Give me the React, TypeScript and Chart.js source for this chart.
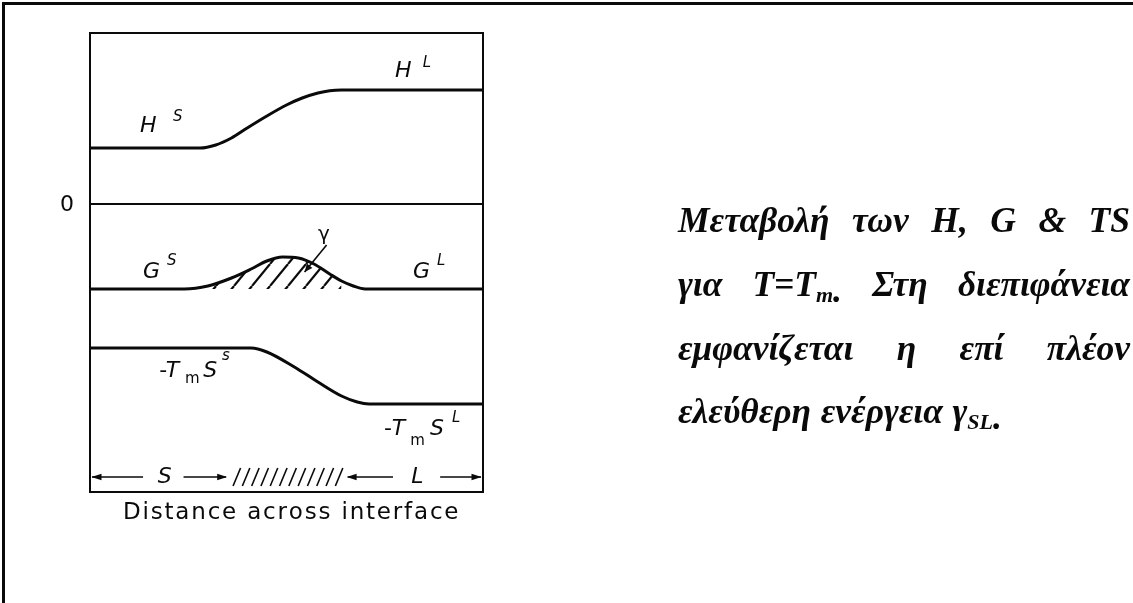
import React, { useEffect, useRef } from "react";
import { Chart, registerables } from "chart.js";

Chart.register(...registerables);

const CANVAS_W = 1133;
const CANVAS_H = 603;

// Distance across the interface: 0 = solid side, 100 = liquid side
const enthalpyX = [0, 28, 32, 36, 40, 45, 50, 54, 58, 61, 64, 100];
const enthalpyY = [5.6, 5.6, 5.9, 6.6, 7.6, 8.8, 9.9, 10.6, 11.1, 11.33, 11.4, 11.4];

const freeEnergyX = [0, 24, 30, 36, 41, 45, 49, 53, 57, 61, 64, 67, 70, 100];
const freeEnergyY = [-8.5, -8.5, -8.2, -7.4, -6.5, -5.7, -5.3, -5.4, -6.0, -7.0, -7.7, -8.2, -8.5, -8.5];

const entropyTermX = [0, 41, 45, 52, 58, 64, 68, 71, 100];
const entropyTermY = [-14.4, -14.4, -14.8, -16.3, -17.8, -19.2, -19.8, -20.0, -20.0];

const zeroX = [0, 100];
const zeroY = [0, 0];

const freeEnergyBase = -8.5;
const excessRange = [30, 64];
const interfaceRange = [36.4, 64.4];
const distanceBandLevel = -27.3;
const xRange = [0, 100];
const yRange = [-28.8, 17.1];

const axisTitle = "Distance across interface";
const zeroLabel = "0";

type Run = { t: string; sub?: boolean; drop?: boolean };
type CaptionLine = { justify: boolean; words: Run[][] };

const captionLines: CaptionLine[] = [
  {
    justify: true,
    words: [[{ t: "Μεταβολή" }], [{ t: "των" }], [{ t: "H," }], [{ t: "G" }], [{ t: "&" }], [{ t: "TS" }]],
  },
  {
    justify: true,
    words: [
      [{ t: "για" }],
      [{ t: "T=T" }, { t: "m", sub: true }, { t: ".", drop: true }],
      [{ t: "Στη" }],
      [{ t: "διεπιφάνεια" }],
    ],
  },
  {
    justify: true,
    words: [[{ t: "εμφανίζεται" }], [{ t: "η" }], [{ t: "επί" }], [{ t: "πλέον" }]],
  },
  {
    justify: false,
    words: [[{ t: "ελεύθερη" }], [{ t: "ενέργεια" }], [{ t: "γ" }, { t: "SL", sub: true }, { t: ".", drop: true }]],
  },
];

const pts = (xs: number[], ys: number[]) => xs.map((x, i) => ({ x, y: ys[i] }));

const INK = "#0a0a0a";
const LETTER = 'oblique 22px "DejaVu Sans"';
const SUP = 'oblique 15px "DejaVu Sans"';
const SUB = '15px "DejaVu Sans"';
const PLAIN = '22px "DejaVu Sans"';

// curve labels: text, font, anchor in data units (left edge, baseline)
const curveLabels: [string, string, number, number][] = [
  ["H", LETTER, 12.7, 7.2],
  ["S", SUP, 21.1, 8.3],
  ["H", LETTER, 77.6, 12.7],
  ["L", SUP, 84.7, 13.7],
  ["G", LETTER, 13.5, -7.4],
  ["S", SUP, 19.6, -6.1],
  ["G", LETTER, 82.2, -7.4],
  ["L", SUP, 88.3, -6.1],
  ["γ", '20px "DejaVu Sans"', 58.0, -3.6],
  ["-", PLAIN, 17.6, -17.3],
  ["T", LETTER, 19.3, -17.3],
  ["m", SUB, 24.2, -17.9],
  ["S", LETTER, 28.8, -17.3],
  ["s", SUP, 33.6, -15.6],
  ["-", PLAIN, 74.8, -23.1],
  ["T", LETTER, 76.8, -23.1],
  ["m", SUB, 81.5, -24.1],
  ["S", LETTER, 86.5, -23.1],
  ["L", SUP, 92.1, -21.8],
];

function arrowHead(
  ctx: CanvasRenderingContext2D,
  tipX: number,
  tipY: number,
  dirX: number,
  dirY: number,
  len: number,
  half: number
) {
  const n = Math.hypot(dirX, dirY);
  const ux = dirX / n;
  const uy = dirY / n;
  const bx = tipX - ux * len;
  const by = tipY - uy * len;
  ctx.beginPath();
  ctx.moveTo(tipX, tipY);
  ctx.lineTo(bx - uy * half, by + ux * half);
  ctx.lineTo(bx + uy * half, by - ux * half);
  ctx.closePath();
  ctx.fill();
}

// diagonal hatch tile: lines x/w + y/h = k
function makeHatch(): CanvasPattern | string {
  const w = 18;
  const h = 22;
  const c = document.createElement("canvas");
  c.width = w;
  c.height = h;
  const g = c.getContext("2d");
  if (!g) return "rgba(0,0,0,0)";
  g.strokeStyle = INK;
  g.lineWidth = 2.2;
  for (const k of [0, 1, 2]) {
    const x0 = (k - 1) * w;
    g.beginPath();
    g.moveTo(x0, h);
    g.lineTo(x0 + w, 0);
    g.stroke();
  }
  const p = g.createPattern(c, "repeat");
  return p ?? INK;
}

const decorPlugin = {
  id: "decor",
  beforeDraw(chart: any) {
    const ctx: CanvasRenderingContext2D = chart.ctx;
    ctx.save();
    ctx.fillStyle = "#ffffff";
    ctx.fillRect(0, 0, chart.width, chart.height);
    // outer frame (top and left edges)
    ctx.fillStyle = INK;
    ctx.fillRect(2, 2, chart.width - 2, 3);
    ctx.fillRect(2, 2, 3, chart.height - 2);
    ctx.restore();
  },
  afterDatasetsDraw(chart: any) {
    const ctx: CanvasRenderingContext2D = chart.ctx;
    const { left, right, top, bottom } = chart.chartArea;
    const xs = chart.scales.x;
    const ys = chart.scales.y;
    const px = (v: number) => xs.getPixelForValue(v);
    const py = (v: number) => ys.getPixelForValue(v);

    ctx.save();
    ctx.strokeStyle = INK;
    ctx.fillStyle = INK;

    // plot box
    ctx.lineWidth = 2;
    ctx.strokeRect(left, top, right - left, bottom - top);

    // zero label
    ctx.font = PLAIN;
    ctx.textAlign = "right";
    ctx.textBaseline = "middle";
    ctx.fillText(zeroLabel, left - 16, py(0) + 1);

    // curve labels
    ctx.textAlign = "left";
    ctx.textBaseline = "alphabetic";
    for (const [t, f, xu, yu] of curveLabels) {
      ctx.font = f;
      ctx.fillText(t, px(xu), py(yu));
    }

    // pointer from γ to the hatched excess
    ctx.lineWidth = 1.6;
    const ax1 = px(60.2), ay1 = py(-4.1), ax2 = px(54.6), ay2 = py(-6.8);
    ctx.beginPath();
    ctx.moveTo(ax1, ay1);
    ctx.lineTo(ax2, ay2);
    ctx.stroke();
    arrowHead(ctx, ax2, ay2, ax2 - ax1, ay2 - ay1, 8, 3.5);

    // distance band: S <- | interface | -> L
    const yb = py(distanceBandLevel);
    ctx.lineWidth = 1.6;
    const seg = (a: number, b: number) => {
      ctx.beginPath();
      ctx.moveTo(px(a), yb);
      ctx.lineTo(px(b), yb);
      ctx.stroke();
    };
    seg(xRange[0] + 0.5, 13.5);
    arrowHead(ctx, px(xRange[0]) + 1.5, yb, -1, 0, 10, 3.2);
    seg(23.8, interfaceRange[0] - 1.8);
    arrowHead(ctx, px(interfaceRange[0] - 1.5), yb, 1, 0, 10, 3.2);
    seg(interfaceRange[1] + 1.2, 77.1);
    arrowHead(ctx, px(interfaceRange[1] + 0.9), yb, -1, 0, 10, 3.2);
    seg(89.1, xRange[1] - 0.5);
    arrowHead(ctx, px(xRange[1]) - 1.5, yb, 1, 0, 10, 3.2);

    ctx.font = LETTER;
    ctx.textAlign = "center";
    ctx.textBaseline = "middle";
    ctx.fillText("S", px(19.0), yb);
    ctx.fillText("L", px(83.3), yb);

    // interface band hatching
    ctx.lineWidth = 1.6;
    const x0 = px(interfaceRange[0]);
    const x1 = px(interfaceRange[1]);
    for (let x = x0; x <= x1 - 6; x += 9.3) {
      ctx.beginPath();
      ctx.moveTo(x, yb + 9);
      ctx.lineTo(x + 7.5, yb - 9);
      ctx.stroke();
    }

    // axis title, spread to the width under the plot box
    ctx.font = '23px "DejaVu Sans"';
    ctx.textAlign = "left";
    ctx.textBaseline = "alphabetic";
    const titleW = 335;
    const natural = ctx.measureText(axisTitle).width;
    const spacing = (titleW - natural) / (axisTitle.length - 1);
    let tx = (left + right) / 2 + 4 - titleW / 2;
    for (const ch of axisTitle) {
      ctx.fillText(ch, tx, bottom + 27);
      tx += ctx.measureText(ch).width + spacing;
    }

    // caption on the right
    const capSize = 35.5;
    const main = `bold italic ${capSize}px "Liberation Serif"`;
    const small = `bold italic ${Math.round(capSize * 0.62)}px "Liberation Serif"`;
    const capLeft = 678;
    const capRight = 1130;
    const baselines = [232, 296, 360, 423];
    const runWidth = (r: Run) => {
      ctx.font = r.sub ? small : main;
      return ctx.measureText(r.t).width;
    };
    const wordWidth = (w: Run[]) => w.reduce((s, r) => s + runWidth(r), 0);
    captionLines.forEach((line, li) => {
      const widths = line.words.map(wordWidth);
      const total = widths.reduce((a, b) => a + b, 0);
      ctx.font = main;
      const gap = line.justify
        ? (capRight - capLeft - total) / (line.words.length - 1)
        : ctx.measureText(" ").width * 1.1;
      let cx = capLeft;
      line.words.forEach((w) => {
        for (const r of w) {
          ctx.font = r.sub ? small : main;
          const dy = r.sub || r.drop ? 6 : 0;
          ctx.fillText(r.t, cx, baselines[li] + dy);
          cx += ctx.measureText(r.t).width;
        }
        cx += gap;
      });
    });

    ctx.restore();
  },
};

export default function App() {
  const canvasRef = useRef<HTMLCanvasElement | null>(null);

  useEffect(() => {
    const canvas = canvasRef.current;
    if (!canvas) return;
    const hatch = makeHatch();
    const excessPts = pts(freeEnergyX, freeEnergyY).filter(
      (p) => p.x >= excessRange[0] && p.x <= excessRange[1]
    );
    const lineStyle = {
      borderColor: INK,
      pointRadius: 0,
      fill: false,
      cubicInterpolationMode: "monotone" as const,
    };
    const chart = new Chart(canvas, {
      type: "line",
      data: {
        datasets: [
          { label: "H", data: pts(enthalpyX, enthalpyY), borderWidth: 3, ...lineStyle },
          { label: "G", data: pts(freeEnergyX, freeEnergyY), borderWidth: 3, ...lineStyle },
          { label: "-TmS", data: pts(entropyTermX, entropyTermY), borderWidth: 3, ...lineStyle },
          { label: "0", data: pts(zeroX, zeroY), borderWidth: 2, ...lineStyle },
          {
            label: "γ",
            data: excessPts,
            borderWidth: 0,
            borderColor: "rgba(0,0,0,0)",
            pointRadius: 0,
            cubicInterpolationMode: "monotone",
            fill: { value: freeEnergyBase },
            backgroundColor: hatch as any,
          },
        ],
      },
      options: {
        animation: false,
        responsive: false,
        maintainAspectRatio: false,
        devicePixelRatio: 1,
        events: [],
        layout: { padding: { left: 90, right: CANVAS_W - 483, top: 33, bottom: CANVAS_H - 492 } },
        scales: {
          x: { type: "linear", min: xRange[0], max: xRange[1], display: false },
          y: { type: "linear", min: yRange[0], max: yRange[1], display: false },
        },
        plugins: {
          legend: { display: false },
          tooltip: { enabled: false },
          title: { display: false },
        },
      },
      plugins: [decorPlugin],
    });
    return () => chart.destroy();
  }, []);

  return (
    <div
      style={{
        position: "fixed",
        left: 0,
        top: 0,
        width: CANVAS_W,
        height: CANVAS_H,
        background: "#fff",
      }}
    >
      <canvas ref={canvasRef} width={CANVAS_W} height={CANVAS_H} style={{ display: "block" }} />
    </div>
  );
}
